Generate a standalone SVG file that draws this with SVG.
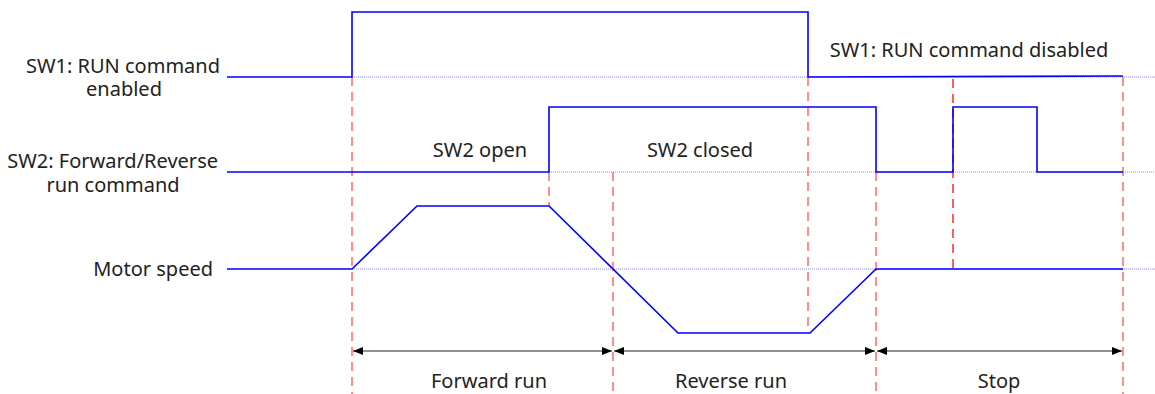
<svg xmlns="http://www.w3.org/2000/svg" width="1155" height="394" viewBox="0 0 1155 394">
<style>
text{font-family:"Noto Sans","Open Sans",sans-serif;font-size:20px;fill:#222}
.sig{fill:none;stroke:#0000ff;stroke-width:1.6}
.base{fill:none;stroke:#6a6aff;stroke-width:0.8;stroke-dasharray:1 1}
.dash{fill:none;stroke:#ff6b6b;stroke-width:1.5;stroke-dasharray:9 6}
.dim{fill:none;stroke:#222;stroke-width:1;marker-start:url(#a);marker-end:url(#a)}
</style>
<defs>
<marker id="a" viewBox="0 0 10 10" refX="10" refY="5" markerWidth="10" markerHeight="10" markerUnits="userSpaceOnUse" orient="auto-start-reverse"><path d="M0,1 L10,5 L0,9 Z" fill="#000"/></marker>
</defs>
<rect width="1155" height="394" fill="#fff"/>
<g id="baselines">
<line class="base" x1="352" y1="77" x2="1155" y2="77"/>
<line class="base" x1="549" y1="172" x2="1155" y2="172"/>
<line class="base" x1="352" y1="269" x2="1155" y2="269"/>
</g>
<g id="guides">
<line class="dash" x1="352" y1="77" x2="352" y2="394"/>
<line class="dash" x1="549" y1="172" x2="549" y2="206"/>
<line class="dash" x1="613" y1="172" x2="613" y2="394"/>
<line class="dash" x1="808" y1="77" x2="808" y2="333"/>
<line class="dash" x1="876" y1="172" x2="876" y2="394"/>
<line class="dash" x1="953" y1="79" x2="953" y2="270" style="stroke:#ff2a2a"/>
<line class="dash" x1="1123" y1="77" x2="1123" y2="394"/>
</g>
<g id="sw1">
<polyline class="sig" points="227,77 352,77 352,12 808,12 808,77 1123,76"/>
<text x="220" y="73" text-anchor="end">SW1: RUN command</text>
<text x="124" y="96" text-anchor="middle">enabled</text>
<text x="969" y="57" text-anchor="middle">SW1: RUN command disabled</text>
</g>
<g id="sw2">
<polyline class="sig" points="227,172 549,172 549,107 876,107 876,172 953,172 953,107 1037,107 1037,172 1123,172"/>
<text x="218" y="168" text-anchor="end">SW2: Forward/Reverse</text>
<text x="113" y="192" text-anchor="middle">run command</text>
<text x="480" y="157" text-anchor="middle">SW2 open</text>
<text x="700" y="157" text-anchor="middle">SW2 closed</text>
</g>
<g id="motor">
<polyline class="sig" points="227,269 352,269 417,206 549,206 678,333 810,333 876,269 1123,269"/>
<text x="213" y="276" text-anchor="end">Motor speed</text>
</g>
<g id="connectors">
<line class="dim" x1="353" y1="351" x2="612" y2="351"/>
<line class="dim" x1="614" y1="351" x2="875" y2="351"/>
<line class="dim" x1="877" y1="351" x2="1122" y2="351"/>
</g>
<g id="phases">
<text x="489" y="388" text-anchor="middle">Forward run</text>
<text x="731" y="388" text-anchor="middle">Reverse run</text>
<text x="999" y="388" text-anchor="middle">Stop</text>
</g>
</svg>
